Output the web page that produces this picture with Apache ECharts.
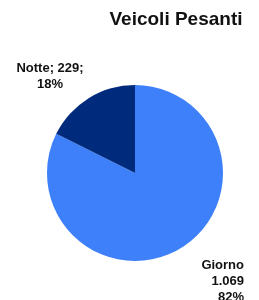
<!DOCTYPE html>
<html><head><meta charset="utf-8">
<script src="https://cdn.jsdelivr.net/npm/echarts@6/dist/echarts.min.js"></script>
<style>html,body{margin:0;padding:0;background:#fff}#c{width:259px;height:300px}</style>
</head><body><div id="c"></div>
<script>
var title = "Veicoli Pesanti";
var categories = ["Giorno", "Notte"];
var values = [1069, 229];
var colors = ["#3d80fa", "#002a7b"];

function fmtIt(n){ return String(n).replace(/\B(?=(\d{3})+(?!\d))/g, "."); }

var chart = echarts.init(document.getElementById('c'), null, {renderer:'canvas'});
chart.setOption({
  animation:false,
  title:{text:title, left:171, top:5, textAlign:'center',
    textStyle:{fontFamily:'Liberation Sans', fontWeight:'bold', fontSize:19, color:'#111'}},
  series:[{
    type:'pie', center:[135,173], radius:[0,88], startAngle:90, clockwise:true,
    avoidLabelOverlap:false,
    data: categories.map(function(c,i){return {name:c, value:values[i], itemStyle:{color:colors[i]}};}),
    label:{show:true, position:'outside', overflow:'none', width:200, fontFamily:'Liberation Sans', fontWeight:'bold', fontSize:13, color:'#111', lineHeight:16,
      formatter:function(p){
        var pct = Math.round(p.percent)+'%';
        if(p.dataIndex===1) return p.name+'; '+fmtIt(p.value)+';\n'+pct;
        return p.name+'\n'+fmtIt(p.value)+'\n'+pct;
      }},
    labelLine:{show:false},
    labelLayout:function(p){
      if(p.dataIndex===1) return {x:50, y:76, align:'center', verticalAlign:'middle'};
      return {x:244, y:281, align:'right', verticalAlign:'middle'};
    },
    emphasis:{disabled:true}
  }]
});
</script></body></html>
